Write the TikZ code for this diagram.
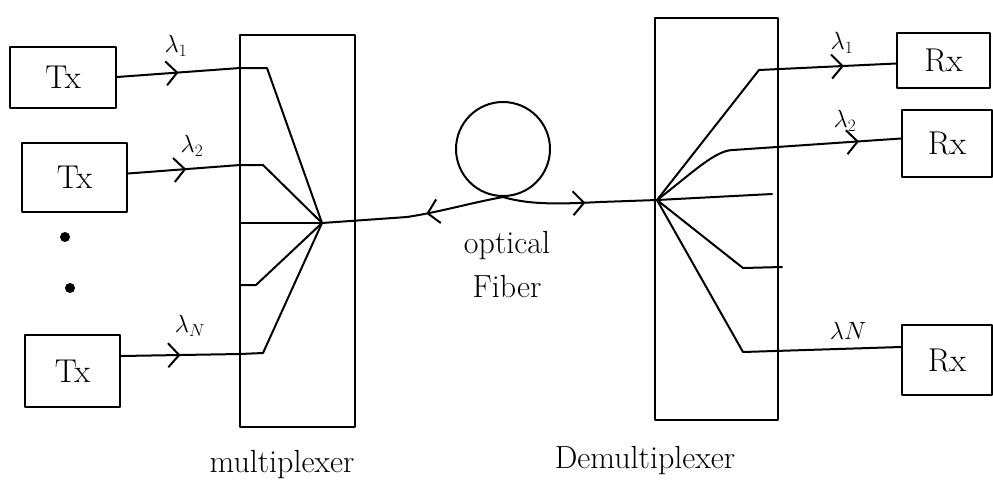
\documentclass[tikz,border=0pt]{standalone}
\usetikzlibrary{arrows.meta,decorations.markings}
\begin{document}
\begin{tikzpicture}[x=1pt,y=-1pt,
  every path/.style={line width=2pt, line join=round, line cap=round},
  box/.style={draw, line width=2pt, inner sep=0pt},
  boxtext/.style={font=\fontsize{33}{36}\selectfont},
  lab/.style={font=\fontsize{27}{30}\selectfont},
  captext/.style={font=\fontsize{32}{36}\selectfont},
  midarrow/.style={postaction={decorate}, decoration={markings,
    mark=at position #1 with {\arrow{Straight Barb[length=11pt,width=24pt,line width=2pt]}}}},
  midarrow/.default=0.5]
\useasboundingbox (0,0) rectangle (993,483);

% transmitters
\node[box, boxtext, minimum width=106pt, minimum height=61pt] (tx1) at (63,77) {Tx};
\node[box, boxtext, minimum width=105pt, minimum height=69pt] (tx2) at (74.5,177.5) {Tx};
\node[box, boxtext, minimum width=95pt, minimum height=72pt] (tx3) at (72.5,371) {Tx};
\node[circle, fill, inner sep=0pt, minimum size=10pt] (dot1) at (65,237) {};
\node[circle, fill, inner sep=0pt, minimum size=10pt] (dot2) at (70,288) {};

% multiplexer
\node[box, minimum width=115pt, minimum height=392pt] (mux) at (297.5,231) {};
\coordinate (cm) at (322,223);
\coordinate (a1) at (240,68);  \coordinate (b1) at (267,68);
\coordinate (a2) at (240,165); \coordinate (b2) at (263,165);
\coordinate (a3) at (240,223);
\coordinate (a4) at (240,285); \coordinate (b4) at (256,285);
\coordinate (aN) at (240,354); \coordinate (bN) at (263,353);

\draw[midarrow=0.5] (tx1.east) -- (a1);
\draw[midarrow=0.52] ([yshift=4pt]tx2.east) -- (a2);
\draw[midarrow=0.5] ([yshift=15pt]tx3.east) -- (aN);
\draw (a1) -- (b1) -- (cm);
\draw (a2) -- (b2) -- (cm);
\draw (a3) -- (cm);
\draw (a4) -- (b4) -- (cm);
\draw (aN) -- (bN) -- (cm);

\node[lab] (l1) at (176,46) {$\lambda_1$};
\node[lab] (l2) at (192,146) {$\lambda_2$};
\node[lab] (lN) at (190,326) {$\lambda_N$};

% fiber
\node[circle, draw, line width=2pt, minimum size=94pt] (loop) at (503,149) {};
\coordinate (f1) at (407,217);
\coordinate (f2) at (600,202);
\coordinate (dm) at (657,200);
\draw (cm) -- (f1);
\draw[midarrow=0.8] (loop.south) .. controls (470,203) and (440,212) .. (f1);
\draw[midarrow=0.85] (loop.south) .. controls (530,205) and (560,204) .. (f2);
\draw (f2) -- (dm);
\node[captext] (opt) at (507,246) {optical};
\node[captext] (fib) at (507,287) {Fiber};

% demultiplexer
\node[box, minimum width=123pt, minimum height=402pt] (demux) at (716.5,219) {};
\node[box, boxtext, minimum width=93pt, minimum height=55pt] (rx1) at (943.5,60.5) {Rx};
\node[box, boxtext, minimum width=90pt, minimum height=67pt] (rx2) at (947,143.5) {Rx};
\node[box, boxtext, minimum width=90pt, minimum height=70pt] (rx3) at (947,360) {Rx};

\coordinate (d1) at (759,70);
\coordinate (d2) at (733,150);
\coordinate (d3) at (772,194);
\coordinate (d4) at (743,268); \coordinate (e4) at (782,267);
\coordinate (dN) at (743,352);

\draw (dm) -- (d1);
\draw[midarrow=0.62] (d1) -- ([yshift=-3pt]rx1.west);
\draw (dm) .. controls (690,175) and (715,150) .. (d2);
\draw[midarrow=0.75] (d2) -- ([yshift=5pt]rx2.west);
\draw (dm) -- (d3);
\draw (dm) -- (d4) -- (e4);
\draw (dm) -- (dN) -- ([yshift=13pt]rx3.west);

\node[lab] (r1) at (842,43) {$\lambda_1$};
\node[lab] (r2) at (845,121) {$\lambda_2$};
\node[lab] (rN) at (848,331) {$\lambda N$};

% captions
\node[captext] (muxlab) at (282,465) {multiplexer};
\node[captext] (demuxlab) at (645,461) {Demultiplexer};
\end{tikzpicture}
\end{document}
